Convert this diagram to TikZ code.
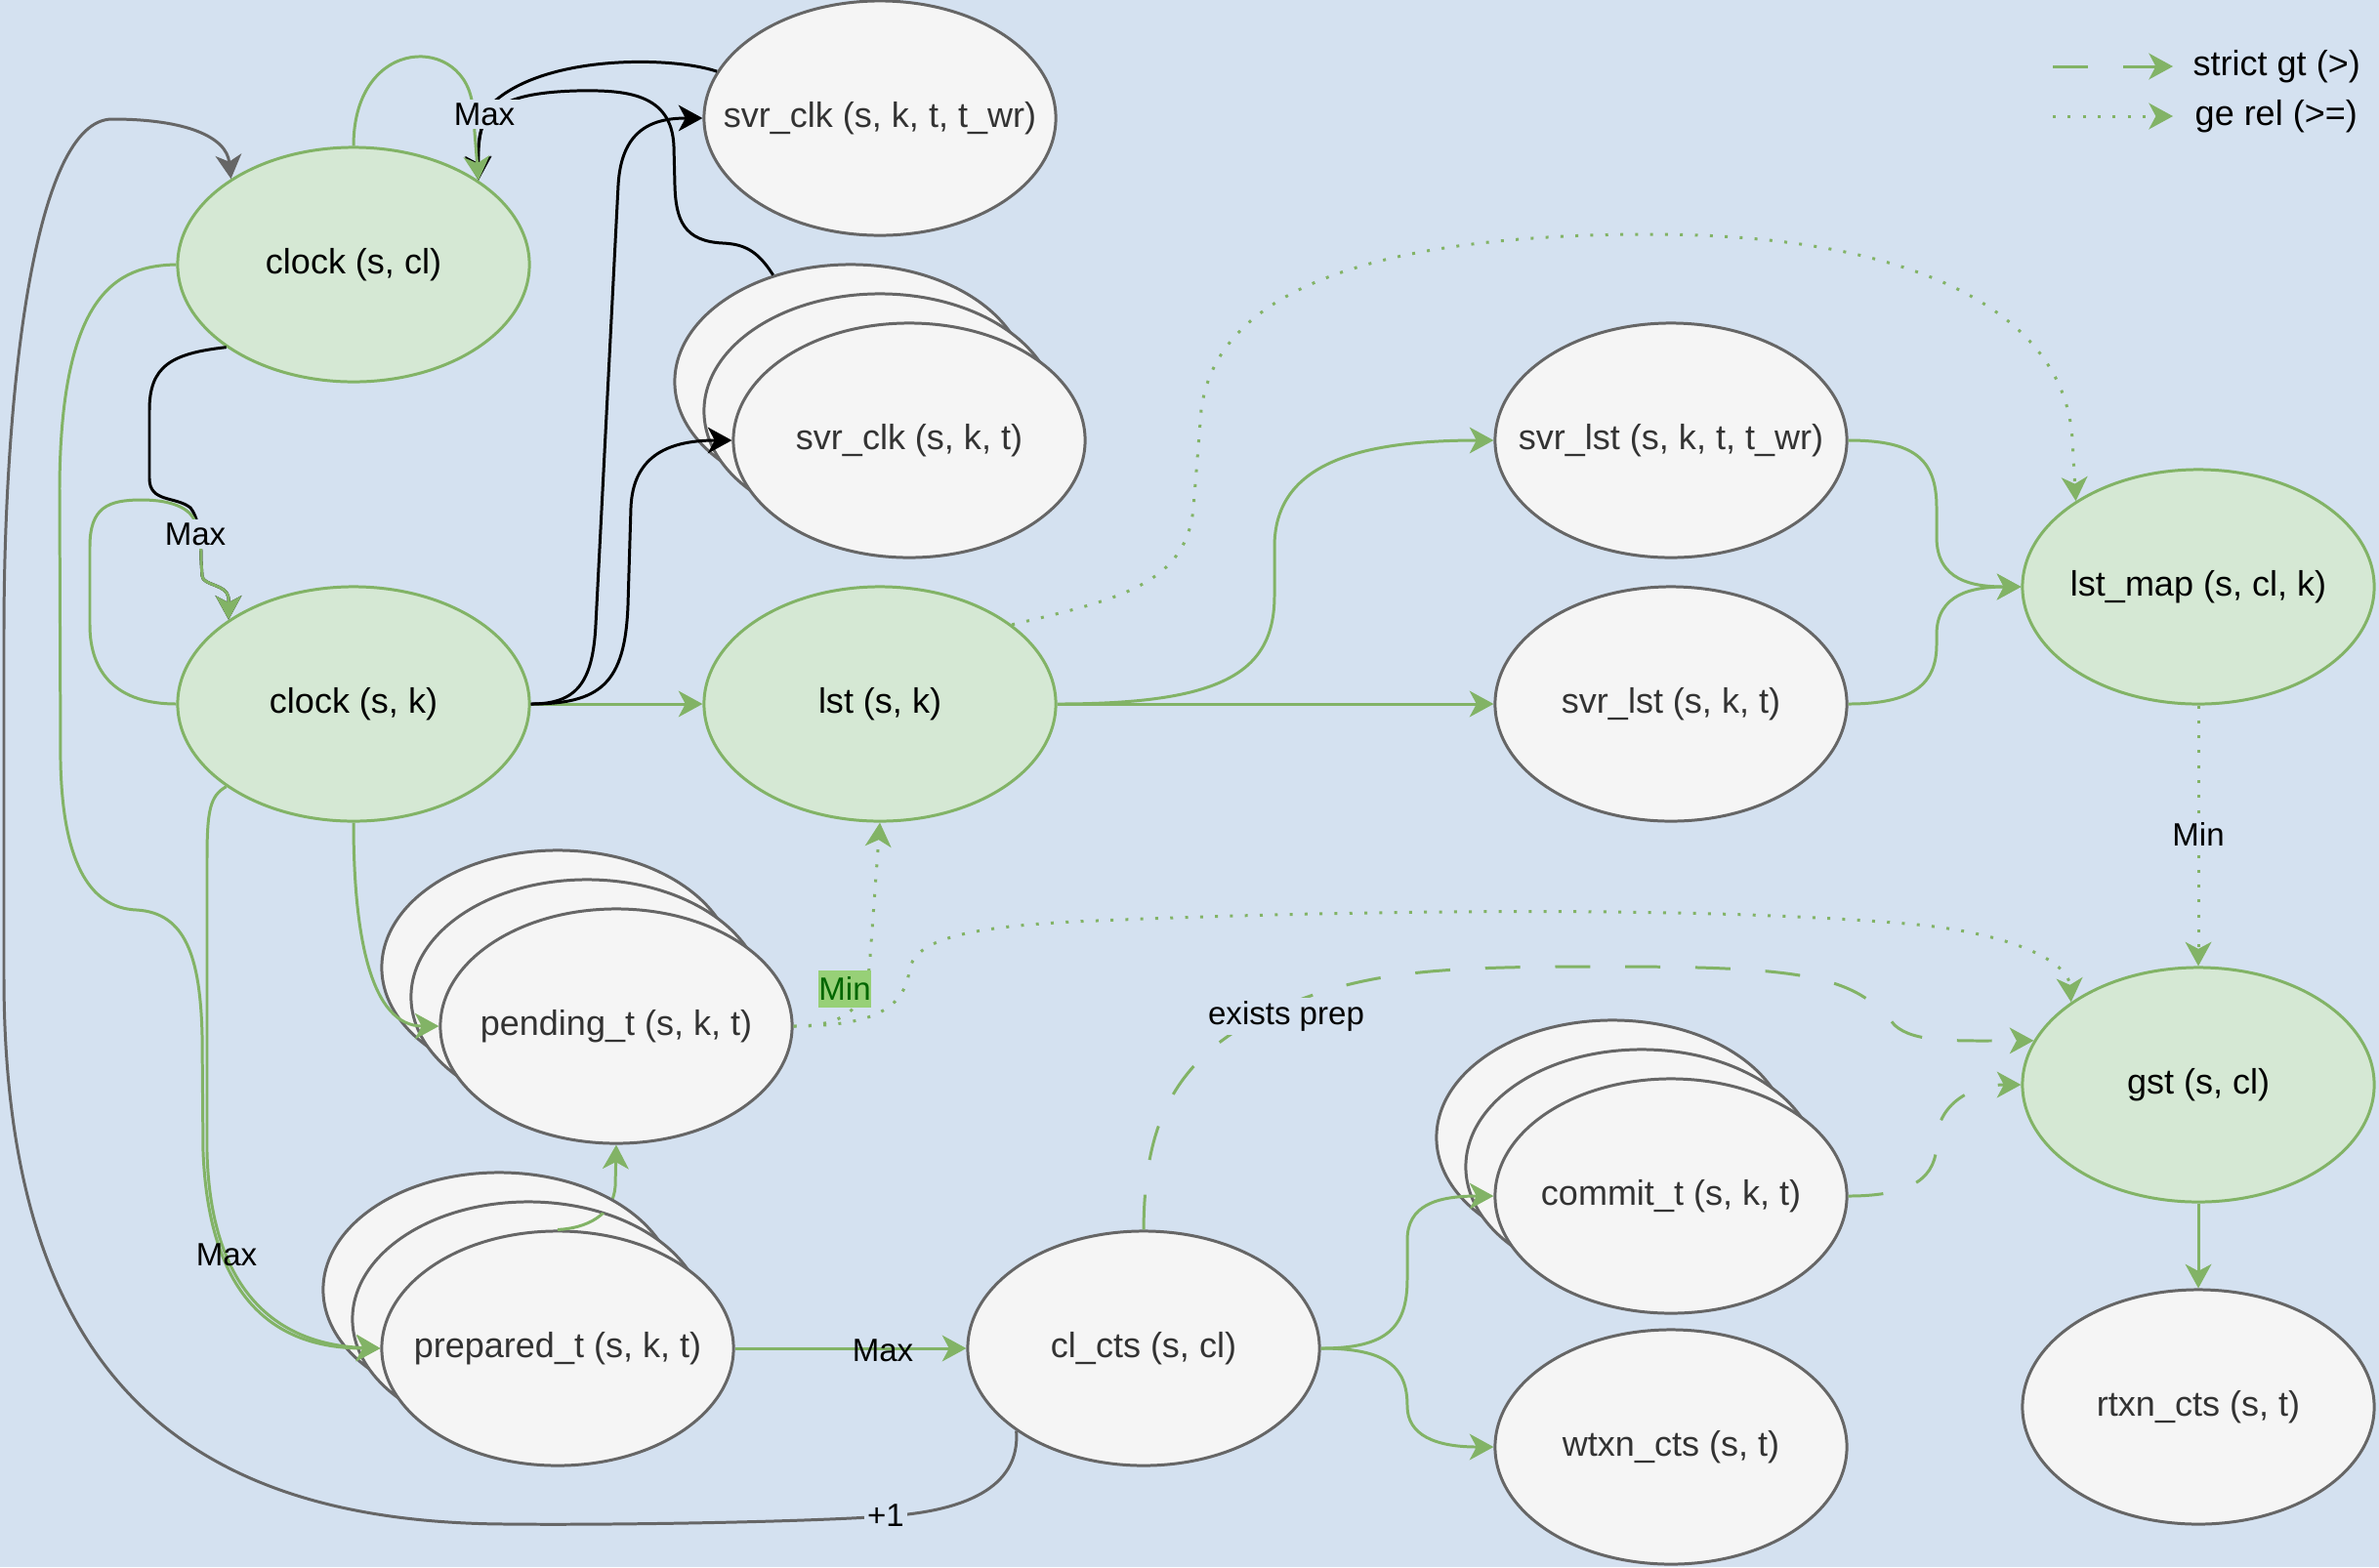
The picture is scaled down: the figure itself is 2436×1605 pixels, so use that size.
\documentclass[tikz,border=0pt]{standalone}
\usepackage{fontspec}
\setmainfont{Liberation Sans}
\usetikzlibrary{arrows.meta,shapes.geometric}
\definecolor{bgc}{RGB}{212,225,240}
\definecolor{gfill}{HTML}{D5E8D4}
\definecolor{gline}{HTML}{82B366}
\definecolor{nfill}{HTML}{F5F5F5}
\definecolor{nline}{HTML}{666666}
\definecolor{ntext}{HTML}{333333}
\definecolor{minfill}{HTML}{97D077}
\definecolor{mintext}{HTML}{006600}
\pgfdeclarelayer{bglayer}
\pgfdeclarelayer{behind}
\pgfsetlayers{bglayer,behind,main}
\newcommand\nodetext[1]{\makebox[0pt]{#1}}
\begin{document}
\begin{tikzpicture}[x=0.01cm,y=-0.01cm,
  font=\fontsize{10.24}{12}\selectfont,
  base/.style={ellipse, line width=0.85pt, minimum width=3.6cm, minimum height=2.4cm, inner sep=0pt},
  gnode/.style={base, draw=gline, fill=gfill, text=black},
  wnode/.style={base, draw=nline, fill=nfill, text=ntext},
  tip/.style={-{Stealth[length=7pt,width=7.6pt,inset=2pt]}},
  gedge/.style={draw=gline, line width=0.85pt, tip},
  bedge/.style={draw=black, line width=0.85pt, tip},
  kedge/.style={draw=nline, line width=0.85pt, tip},
  gdot/.style={gedge, dash pattern=on 0.85pt off 3.5pt},
  gdash/.style={gedge, dash pattern=on 10.2pt off 10.2pt},
  elabel/.style={font=\fontsize{9.4}{11}\selectfont, inner sep=1pt, text=black},
  elabelbg/.style={elabel, fill=bgc}
]
\begin{pgfonlayer}{bglayer}
\fill[bgc] (0,0) rectangle (2436,1605);
\end{pgfonlayer}
\useasboundingbox (0,0) rectangle (2436,1605);

% nodes
\node[gnode] (clockcl) at (362,271) {\nodetext{clock (s, cl)}};
\node[gnode] (clocksk) at (362,721) {\nodetext{clock (s, k)}};
\node[gnode] (lst) at (901,721) {\nodetext{lst (s, k)}};
\node[wnode] (svrclkA) at (901,121) {\nodetext{svr\_clk (s, k, t, t\_wr)}};
\node[wnode] (svrclkB) at (871,391) {};
\node[wnode] (svrclkM) at (901,421) {};
\node[wnode] (svrclkF) at (931,451) {\nodetext{svr\_clk (s, k, t)}};
\node[wnode] (svrlstA) at (1711,451) {\nodetext{svr\_lst (s, k, t, t\_wr)}};
\node[wnode] (svrlstB) at (1711,721) {\nodetext{svr\_lst (s, k, t)}};
\node[gnode] (lstmap) at (2251,601) {\nodetext{lst\_map (s, cl, k)}};
\node[wnode] (pendB) at (571,991) {};
\node[wnode] (pendM) at (601,1021) {};
\node[wnode] (pendF) at (631,1051) {\nodetext{pending\_t (s, k, t)}};
\node[wnode] (prepB) at (511,1321) {};
\node[wnode] (prepM) at (541,1351) {};
\node[wnode] (prepF) at (571,1381) {\nodetext{prepared\_t (s, k, t)}};
\node[wnode] (clcts) at (1171,1381) {\nodetext{cl\_cts (s, cl)}};
\node[wnode] (commB) at (1651,1165) {};
\node[wnode] (commM) at (1681,1195) {};
\node[wnode] (commF) at (1711,1225) {\nodetext{commit\_t (s, k, t)}};
\node[wnode] (wtxn) at (1711,1482) {\nodetext{wtxn\_cts (s, t)}};
\node[gnode] (gst) at (2251,1111) {\nodetext{gst (s, cl)}};
\node[wnode] (rtxn) at (2251,1441) {\nodetext{rtxn\_cts (s, t)}};

% prepared -> pending (partly hidden behind the stack)
\begin{pgfonlayer}{behind}
\draw[gedge] (prepF.north) .. controls (600,1258) and (628,1245) .. (630,1215) -- (pendF.south);
\end{pgfonlayer}
\begin{scope}
\clip (prepM.center) ellipse [x radius=1.8cm, y radius=1.2cm];
\draw[gline, line width=0.85pt] (prepF.north) .. controls (600,1258) and (628,1245) .. (630,1215);
\end{scope}

% gray +1 edge
\draw[kedge] (clcts.213) .. controls (1045,1525) and (985,1548) .. (907,1553)
  .. controls (800,1560) and (600,1562) .. (520,1561)
  .. controls (180,1560) and (4,1400) .. (4,1000) -- (4,650)
  .. controls (4,400) and (35,122) .. (115,122)
  .. controls (190,122) and (232,140) .. (clockcl.145);

% black edges into clock (s, cl)
\draw[bedge] (svrclkA.164) .. controls (690,58) and (560,55) .. (505,105)
  .. controls (492,120) and (489,150) .. (clockcl.34);
\draw[bedge] (svrclkB.126) .. controls (775,255) and (760,250) .. (740,249)
  .. controls (700,247) and (692,225) .. (691,190) -- (690,150)
  .. controls (688,95) and (640,92) .. (590,93)
  .. controls (520,95) and (492,110) .. (490,150) -- (clockcl.34);
% green self loop clock (s, cl)
\draw[gedge] (clockcl.90) .. controls (362,35) and (478,35) .. (484,110) -- (clockcl.34);

% black clock(s,cl) -> clock(s,k)
\draw[bedge] (clockcl.213) .. controls (175,362) and (153,375) .. (153,420) -- (153,490)
  .. controls (153,515) and (180,508) .. (195,520)
  .. controls (203,530) and (206,550) .. (206,575) -- (207,590)
  .. controls (208,600) and (232,598) .. (234,612) -- (clocksk.146);
% green self loop clock(s,k)
\draw[gedge] (clocksk.west) .. controls (120,721) and (92,690) .. (92,640) -- (92,560)
  .. controls (92,520) and (110,512) .. (145,512)
  .. controls (175,512) and (195,520) .. (200,535)
  .. controls (204,545) and (206,555) .. (206,575) -- (207,590)
  .. controls (208,600) and (232,598) .. (234,612) -- (clocksk.146);

% green long edges to prepared
\draw[gedge] (clockcl.west) .. controls (120,272) and (62,300) .. (61,500) -- (62,780)
  .. controls (64,880) and (90,930) .. (140,932)
  .. controls (190,935) and (205,980) .. (207,1060) -- (208,1180)
  .. controls (215,1350) and (300,1381) .. (prepF.west);
\draw[gedge] (clocksk.213) .. controls (215,815) and (212,830) .. (212,880) -- (212,1180)
  .. controls (216,1340) and (300,1378) .. (prepF.west);

% clock(s,k) -> pending
\draw[gedge] (clocksk.south) .. controls (362,960) and (380,1051) .. (pendF.west);
% clock(s,k) -> lst
\draw[gedge] (clocksk.east) -- (lst.west);
% clock(s,k) -> svr_clk
\draw[bedge] (clocksk.east) .. controls (590,721) and (607,700) .. (610,640) -- (633,190)
  .. controls (636,135) and (665,121) .. (svrclkA.west);
\draw[bedge] (clocksk.east) .. controls (615,721) and (640,700) .. (643,620) -- (646,520)
  .. controls (648,470) and (680,451) .. (svrclkF.west);

% lst -> svr_lst
\draw[gedge] (lst.east) .. controls (1250,721) and (1305,690) .. (1305,610) -- (1305,560)
  .. controls (1305,480) and (1380,451) .. (svrlstA.west);
\draw[gedge] (lst.east) -- (svrlstB.west);
% lst -> lst_map dotted
\draw[gdot] (lst.31) .. controls (1140,615) and (1215,600) .. (1222,520) -- (1230,420)
  .. controls (1245,300) and (1400,240) .. (1690,240)
  .. controls (1980,240) and (2115,330) .. (2122,450) -- (lstmap.145);
% svr_lst -> lst_map
\draw[gedge] (svrlstA.east) .. controls (1960,451) and (1983,470) .. (1983,520) -- (1983,550)
  .. controls (1983,595) and (2020,601) .. (lstmap.west);
\draw[gedge] (svrlstB.east) .. controls (1960,721) and (1983,700) .. (1983,660) -- (1983,650)
  .. controls (1983,608) and (2020,601) .. (lstmap.west);
% lst_map -> gst
\draw[gdot] (lstmap.south) -- (gst.north);
% pending -> lst
\draw[gdot] (pendF.east) .. controls (870,1051) and (888,1030) .. (891,980) -- (lst.south);
% pending -> gst
\draw[gdot] (pendF.east) .. controls (890,1051) and (925,1035) .. (931,995)
  .. controls (935,965) and (980,950) .. (1100,944)
  .. controls (1300,935) and (1700,925) .. (1952,946)
  .. controls (2060,955) and (2118,985) .. (gst.147);
% prepared -> cl_cts
\draw[gedge] (prepF.east) -- (clcts.west);
% cl_cts -> gst dashed
\draw[gdash] (clcts.north) .. controls (1172,1150) and (1200,1070) .. (1339,1021)
  .. controls (1420,992) and (1500,990) .. (1650,990)
  .. controls (1850,990) and (1900,1000) .. (1940,1050)
  .. controls (1960,1068) and (2000,1066) .. (gst.165);
% commit -> gst dashed
\draw[gdash] (commF.east) .. controls (1960,1225) and (1983,1205) .. (1983,1170)
  .. controls (1983,1130) and (2020,1111) .. (gst.west);
% cl_cts -> commit / wtxn
\draw[gedge] (clcts.east) .. controls (1420,1381) and (1441,1360) .. (1441,1310) -- (1441,1270)
  .. controls (1441,1235) and (1470,1225) .. (commF.west);
\draw[gedge] (clcts.east) .. controls (1420,1381) and (1441,1400) .. (1441,1440)
  .. controls (1441,1470) and (1470,1482) .. (wtxn.west);
% gst -> rtxn
\draw[gedge] (gst.south) -- (rtxn.north);

% labels
\node[elabelbg] (lmax1) at (496,117) {Max};
\node[elabelbg] (lmax2) at (200,547) {Max};
\node[elabel] (lmax3) at (232,1285) {Max};
\node[elabel] (lmax4) at (904,1383) {Max};
\node[elabelbg] (lplus) at (907,1552) {+1};
\node[elabelbg] (lmin1) at (2251,855) {Min};
\node[elabel, fill=minfill, text=mintext, inner xsep=0pt, inner ysep=2pt] (lmin2) at (865,1013) {Min};
\node[elabelbg] (lexists) at (1317,1041) {exists prep};

% legend
\coordinate (lgA1) at (2102,68);
\coordinate (lgA2) at (2225,68);
\coordinate (lgB1) at (2102,119);
\coordinate (lgB2) at (2225,119);
\draw[gdash] (lgA1) -- (lgA2);
\draw[gdot] (lgB1) -- (lgB2);
\node[anchor=west, inner sep=0pt] (lgAt) at (2245,68) {strict gt (>)};
\node[anchor=west, inner sep=0pt] (lgBt) at (2247,119) {ge rel (>=)};
\end{tikzpicture}
\end{document}
